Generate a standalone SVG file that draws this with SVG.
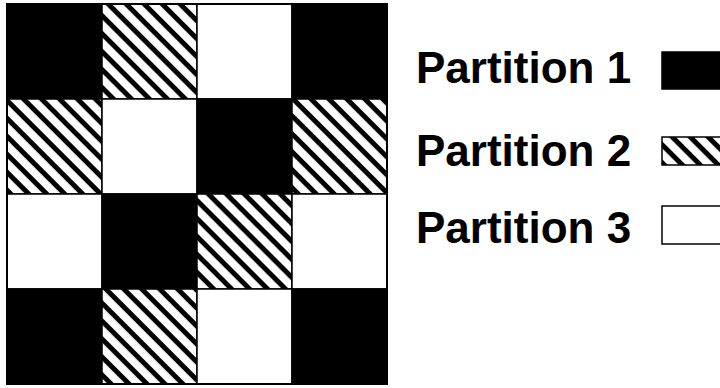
<svg xmlns="http://www.w3.org/2000/svg" width="720" height="388" viewBox="0 0 720 388">
<defs>
<pattern id="hatch" patternUnits="userSpaceOnUse" width="12.7" height="12.7" patternTransform="rotate(45)">
<rect x="0" y="0" width="12.7" height="12.7" fill="#fff"/>
<rect x="0" y="0" width="12.7" height="5" fill="#000"/>
</pattern>
</defs>
<style>
.p1{fill:#000;stroke:#000;stroke-width:1.5}
.p2{fill:url(#hatch);stroke:#000;stroke-width:1.5}
.p3{fill:#fff;stroke:#000;stroke-width:1.5}
.lbl{font-family:"Liberation Sans",Arial,sans-serif;font-weight:bold;font-size:44px;fill:#000}
</style>
<rect width="720" height="388" fill="#fff"/>
<g id="grid">
<rect class="p1" x="7" y="4" width="95" height="95"/>
<rect class="p2" x="102" y="4" width="95" height="95"/>
<rect class="p3" x="197" y="4" width="95" height="95"/>
<rect class="p1" x="292" y="4" width="95" height="95"/>
<rect class="p2" x="7" y="99" width="95" height="95"/>
<rect class="p3" x="102" y="99" width="95" height="95"/>
<rect class="p1" x="197" y="99" width="95" height="95"/>
<rect class="p2" x="292" y="99" width="95" height="95"/>
<rect class="p3" x="7" y="194" width="95" height="95"/>
<rect class="p1" x="102" y="194" width="95" height="95"/>
<rect class="p2" x="197" y="194" width="95" height="95"/>
<rect class="p3" x="292" y="194" width="95" height="95"/>
<rect class="p1" x="7" y="289" width="95" height="95"/>
<rect class="p2" x="102" y="289" width="95" height="95"/>
<rect class="p3" x="197" y="289" width="95" height="95"/>
<rect class="p1" x="292" y="289" width="95" height="95"/>
<rect x="7" y="4" width="380" height="380" fill="none" stroke="#000" stroke-width="2"/>
</g>
<g id="legend1">
<text class="lbl" x="416" y="83">Partition 1</text>
<rect class="p1" x="662" y="52" width="70" height="37"/>
</g>
<g id="legend2">
<text class="lbl" x="416" y="166">Partition 2</text>
<rect class="p2" x="662" y="137" width="70" height="28"/>
</g>
<g id="legend3">
<text class="lbl" x="416" y="243">Partition 3</text>
<rect class="p3" x="662" y="206" width="70" height="38"/>
</g>
<g id="connectors"/>
</svg>
